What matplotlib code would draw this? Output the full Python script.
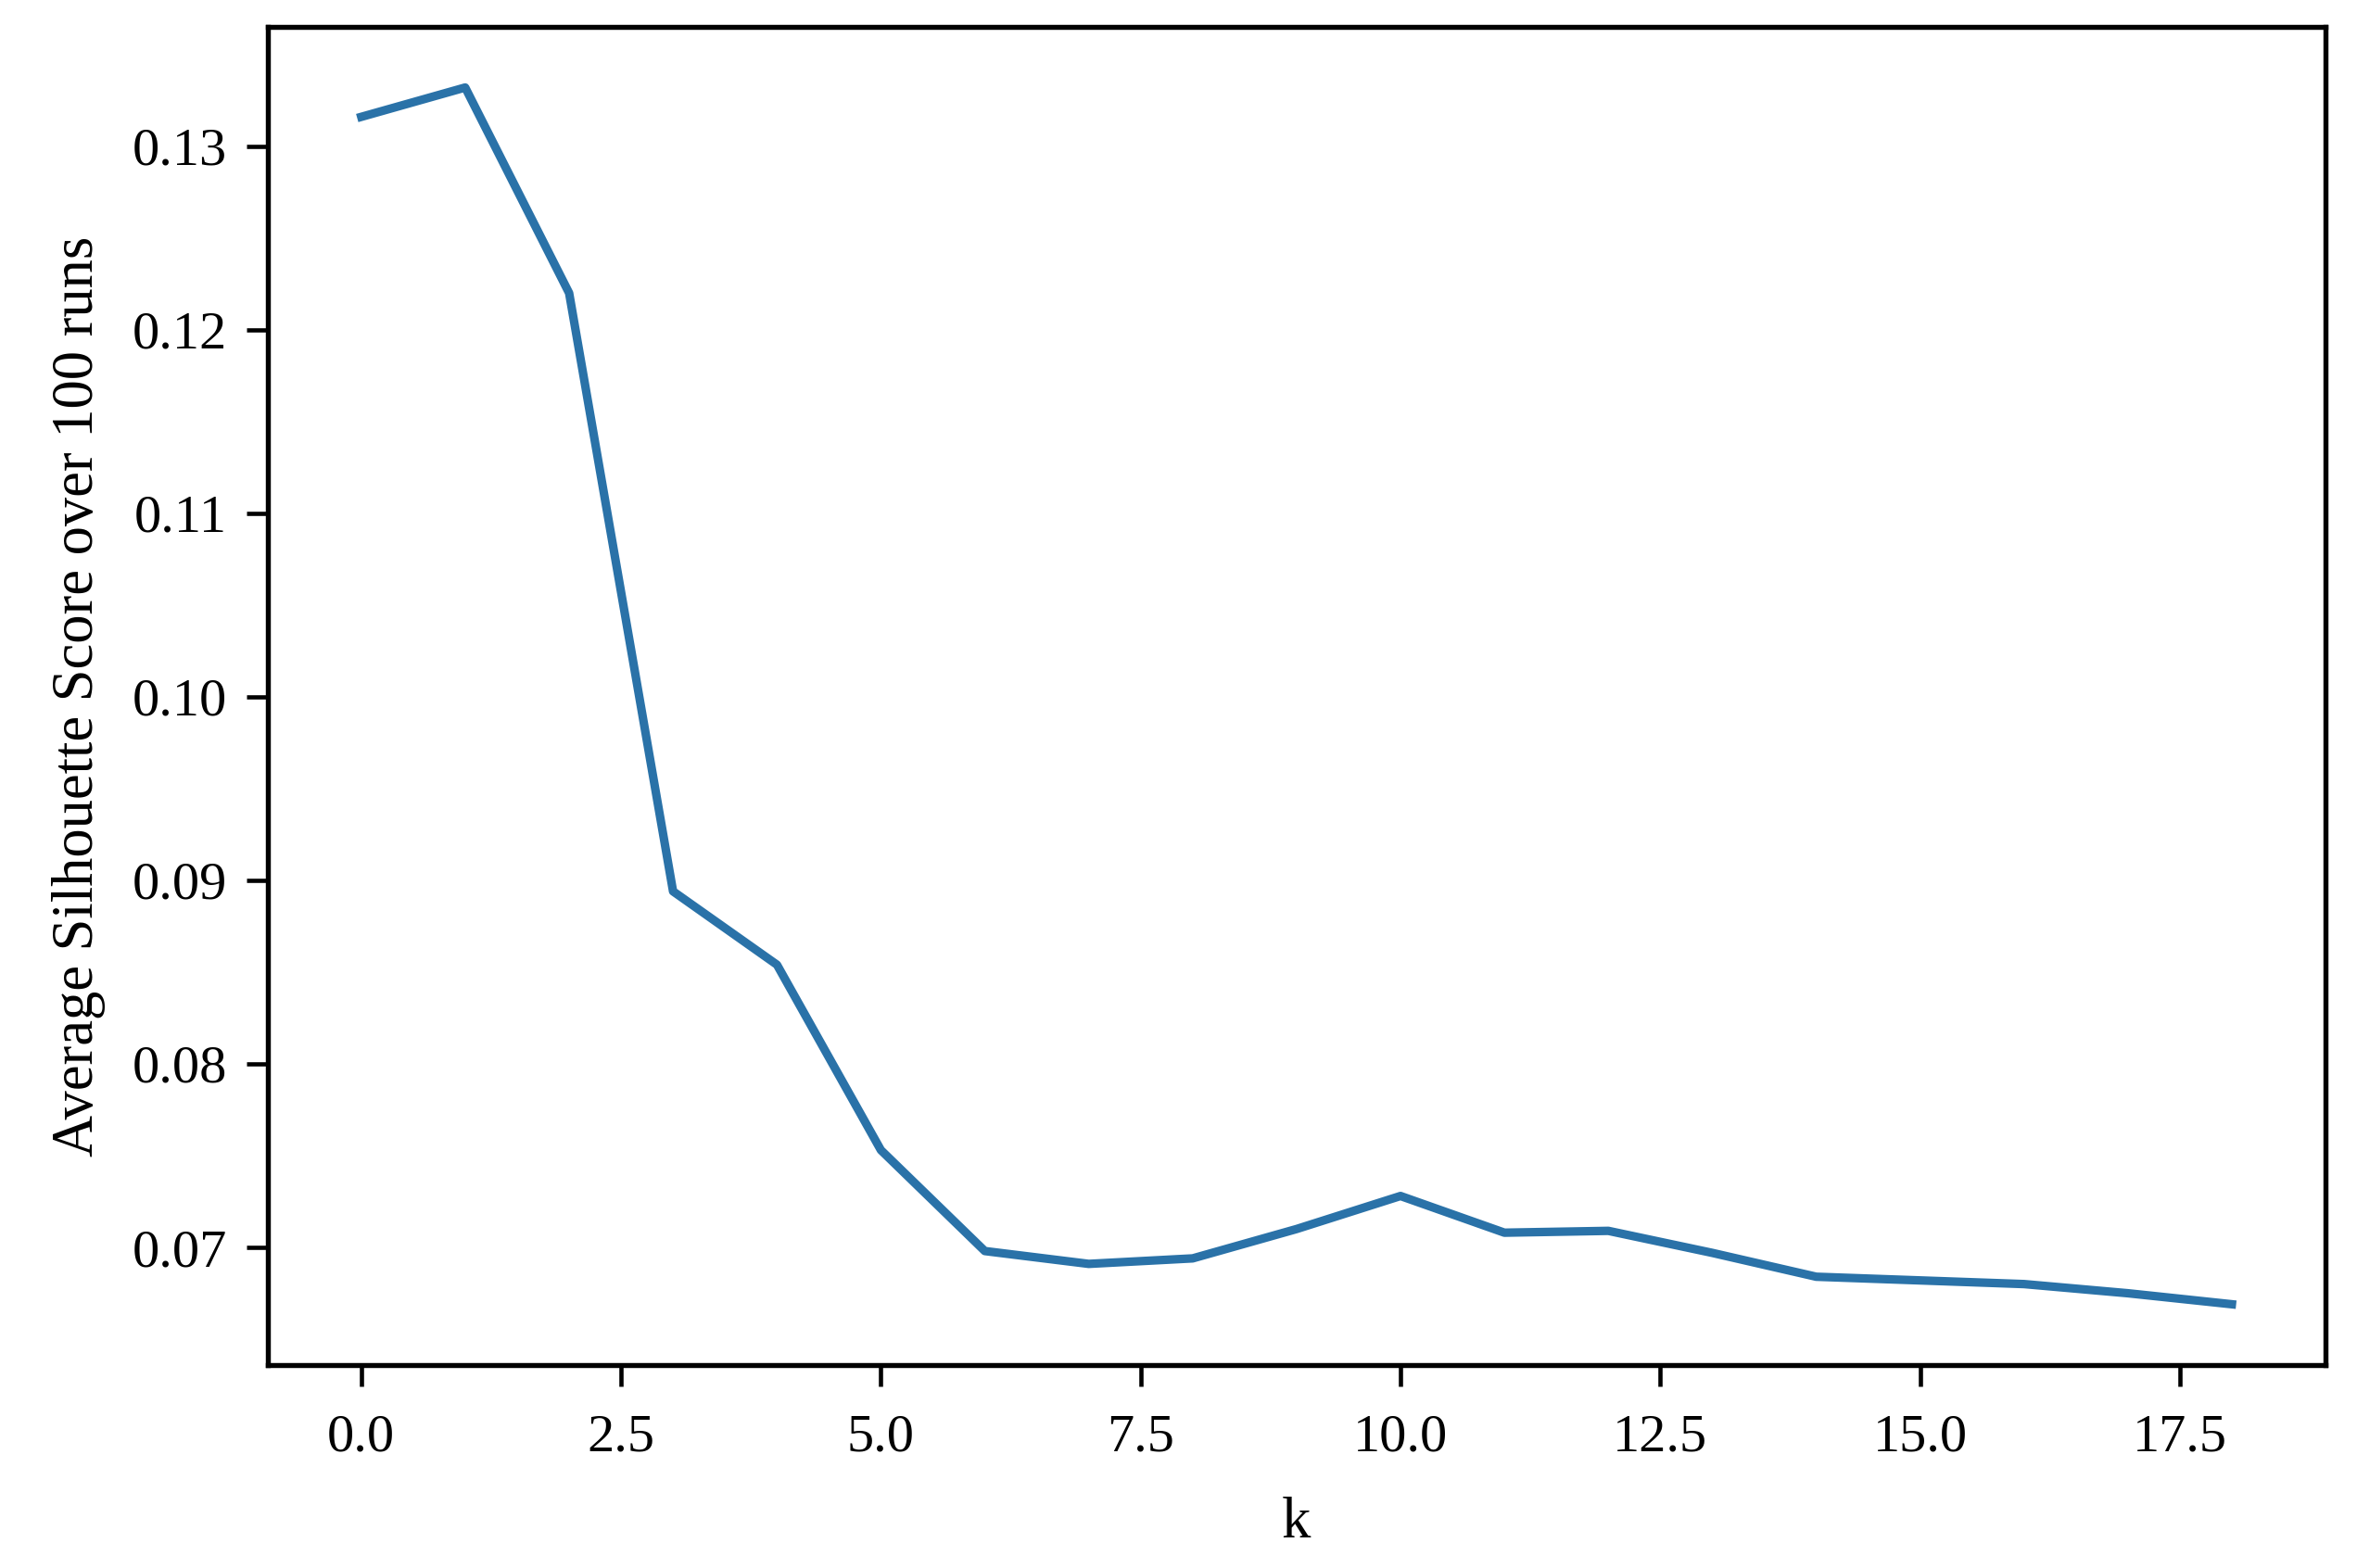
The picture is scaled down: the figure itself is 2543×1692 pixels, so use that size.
import matplotlib
matplotlib.use("Agg")
import matplotlib.pyplot as plt

k_values = list(range(19))
silhouette = [0.1316, 0.1332, 0.1220, 0.0894, 0.0854, 0.0753, 0.0698, 0.0691,
              0.0694, 0.0710, 0.0728, 0.0708, 0.0709, 0.0697, 0.0684, 0.0682,
              0.0680, 0.0675, 0.0669]

plt.rcParams['font.family'] = ['Liberation Serif', 'DejaVu Serif']
plt.rcParams['font.size'] = 14

fig = plt.figure(figsize=(2543/300, 1692/300), dpi=300)
ax = fig.add_axes([0.1136, 0.1294, 0.873, 0.8536])
ax.plot(k_values, silhouette, color='#2a72a8', linewidth=2.2)
ax.set_xlabel('k', fontsize=15, labelpad=9)
ax.set_ylabel('Average Silhouette Score over 100 runs', fontsize=15, labelpad=7)
for s in ax.spines.values():
    s.set_linewidth(1.3)
ax.tick_params(width=1.1, length=5.5, labelsize=14, pad=5)
ax.tick_params(axis='x', pad=7)
fig.savefig('out.png', dpi=300, facecolor='white')
